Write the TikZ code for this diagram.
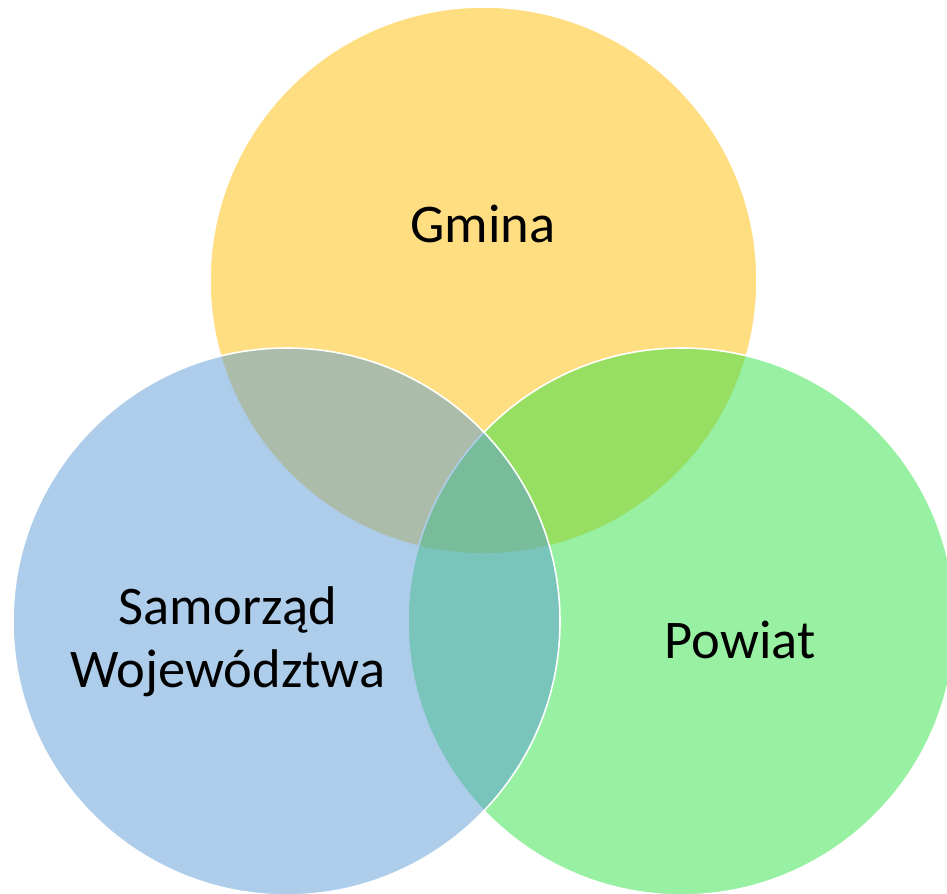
\documentclass[tikz,border=0pt]{standalone}
\usepackage{fontspec}
\setmainfont{Carlito}
\usepackage{xcolor}
\usepackage{tikz}
\definecolor{VGold}{HTML}{FFBD05}
\definecolor{VGreen}{HTML}{31E145}
\definecolor{VBlue}{HTML}{5B9BD5}

\begin{document}
\begin{tikzpicture}[
  x=0.02cm,y=-0.02cm,
  every node/.style={font=\fontsize{31}{36}\selectfont,align=center,text=black},
  ring/.style={draw=white,line width=0.9pt,fill opacity=0.5,draw opacity=1}
]
  \useasboundingbox (0,0) rectangle (947,893);
  \clip (0,0) rectangle (947,893);
  % circles: gold first, then green, blue on top
  \draw[ring,fill=VGold] (483.5,280.5) circle[radius=273.5];
  \draw[ring,fill=VGreen] (681.5,621.5) circle[radius=273.5];
  \draw[ring,fill=VBlue] (286.5,621.5) circle[radius=273.5];

  \node (gmina) at (483,224) {Gmina};
  \node (samorzad) at (228,642) {Samorząd\\Województwa};
  \node (powiat) at (740,640) {Powiat};
\end{tikzpicture}
\end{document}
